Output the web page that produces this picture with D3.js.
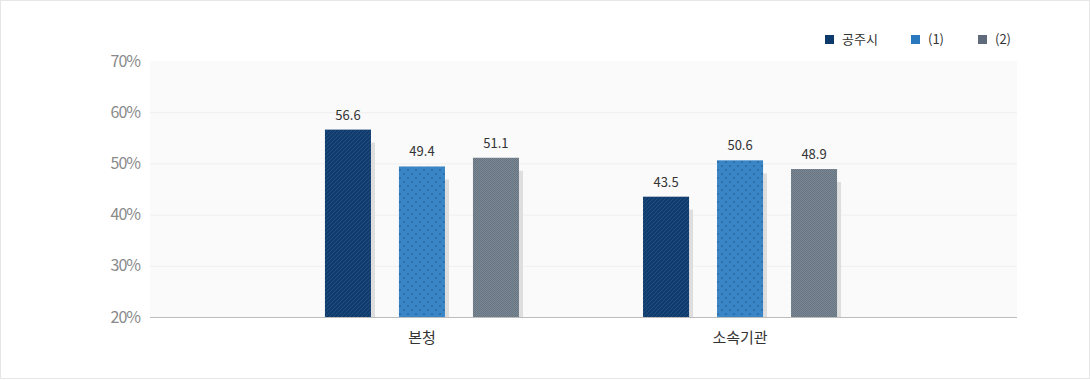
<!DOCTYPE html>
<html>
<head>
<meta charset="utf-8">
<script src="https://cdn.jsdelivr.net/npm/d3@7"></script>
<style>
  body { margin: 0; background: #fff; }
  svg { display: block; font-family: "Noto Sans CJK KR", "Noto Sans", sans-serif; }
</style>
</head>
<body>
<svg id="chart"></svg>
<script>
const categories = ['본청', '소속기관']
const seriesNames = ['공주시', '(1)', '(2)']
const values = [
    [56.6, 49.4, 51.1],
    [43.5, 50.6, 48.9],
]
const yTicks = [20, 30, 40, 50, 60, 70]

const W = 1090, H = 380
const plot = { left: 150, right: 1017, top: 61, bottom: 317 }

const barColors = ['#0f3b6d', '#3985c6', '#6f7c8b']
const legendColors = ['#0e3a6b', '#2a78bd', '#5f6b7a']

const svg = d3.select('#chart').attr('width', W).attr('height', H)

// outer frame
svg.append('rect')
   .attr('x', 0.5).attr('y', 0.5)
   .attr('width', W - 1).attr('height', H - 2)
   .attr('fill', '#fff').attr('stroke', '#e6e6e6')

// patterns
const defs = svg.append('defs')
const p1 = defs.append('pattern').attr('id', 'pat0')
               .attr('patternUnits', 'userSpaceOnUse')
               .attr('width', 4).attr('height', 4)
p1.append('rect').attr('width', 4).attr('height', 4).attr('fill', barColors[0])
p1.append('path').attr('d', 'M-1,1 L1,-1 M0,4 L4,0 M3,5 L5,3')
  .attr('stroke', '#2a5488').attr('stroke-width', 0.8)

const p2 = defs.append('pattern').attr('id', 'pat1')
               .attr('patternUnits', 'userSpaceOnUse')
               .attr('width', 8).attr('height', 8)
p2.append('rect').attr('width', 8).attr('height', 8).attr('fill', barColors[1])
p2.append('rect').attr('x', 1).attr('y', 1).attr('width', 2).attr('height', 2).attr('fill', '#2d6fab')
p2.append('rect').attr('x', 5).attr('y', 5).attr('width', 2).attr('height', 2).attr('fill', '#2d6fab')

const p3 = defs.append('pattern').attr('id', 'pat2')
               .attr('patternUnits', 'userSpaceOnUse')
               .attr('width', 2).attr('height', 2)
p3.append('rect').attr('width', 2).attr('height', 2).attr('fill', '#7b8896')
p3.append('rect').attr('width', 1).attr('height', 1).attr('fill', '#67747f')
p3.append('rect').attr('x', 1).attr('y', 1).attr('width', 1).attr('height', 1).attr('fill', '#67747f')

// scales
const y = d3.scaleLinear().domain([20, 70]).range([plot.bottom, plot.top])
const x0 = d3.scaleBand().domain(categories)
             .range([plot.left, 1012]).paddingOuter(0.355).paddingInner(0)
const x1 = d3.scaleBand().domain(seriesNames)
             .range([-111, 111]).paddingInner(0.378).paddingOuter(0.189)

// plot background
svg.append('rect')
   .attr('x', plot.left).attr('y', plot.top)
   .attr('width', plot.right - plot.left).attr('height', plot.bottom - plot.top)
   .attr('fill', '#fafafa')

// gridlines
svg.append('g').selectAll('line')
   .data(yTicks.slice(1, -1))
   .enter().append('line')
   .attr('x1', plot.left).attr('x2', plot.right)
   .attr('y1', d => y(d) + 0.5).attr('y2', d => y(d) + 0.5)
   .attr('stroke', '#efefef')

// y axis labels
const yAxis = svg.append('g')
   .attr('transform', `translate(${plot.left},0)`)
   .call(d3.axisLeft(y).tickValues(yTicks).tickSize(0).tickPadding(10)
           .tickFormat(d => d + '%'))
yAxis.select('.domain').remove()
yAxis.selectAll('text')
     .attr('fill', '#8a8a8a').attr('font-size', 16)
     .attr('letter-spacing', '-1px')
     .attr('font-family', '"Noto Sans CJK KR", sans-serif')

// bars
const groups = svg.append('g').selectAll('g')
   .data(categories)
   .enter().append('g')
   .attr('transform', d => `translate(${x0(d) + x0.bandwidth() / 2},0)`)

groups.each(function (cat, ci) {
    const g = d3.select(this)
    const rows = seriesNames.map((s, si) => ({ s, si, v: values[ci][si] }))

    // shadow
    g.selectAll('.shadow').data(rows).enter().append('rect')
     .attr('class', 'shadow')
     .attr('x', d => x1(d.s) + x1.bandwidth())
     .attr('y', d => y(d.v) + 13)
     .attr('width', 4)
     .attr('height', d => plot.bottom - y(d.v) - 13)
     .attr('fill', '#dedede')

    g.selectAll('.bar').data(rows).enter().append('rect')
     .attr('class', 'bar')
     .attr('x', d => x1(d.s))
     .attr('y', d => y(d.v))
     .attr('width', x1.bandwidth())
     .attr('height', d => plot.bottom - y(d.v))
     .attr('fill', d => `url(#pat${d.si})`)

    g.selectAll('.val').data(rows).enter().append('text')
     .attr('class', 'val')
     .attr('x', d => x1(d.s) + x1.bandwidth() / 2)
     .attr('y', d => y(d.v) - 10)
     .attr('text-anchor', 'middle')
     .attr('font-size', 13)
     .attr('fill', '#333')
     .text(d => d.v.toFixed(1))
})

// x axis line
svg.append('line')
   .attr('x1', plot.left).attr('x2', plot.right)
   .attr('y1', plot.bottom + 0.5).attr('y2', plot.bottom + 0.5)
   .attr('stroke', '#bcbcbc')

// category labels
svg.append('g').selectAll('text')
   .data(categories)
   .enter().append('text')
   .attr('x', d => x0(d) + x0.bandwidth() / 2)
   .attr('y', 343)
   .attr('text-anchor', 'middle')
   .attr('font-size', 15)
   .attr('fill', '#333')
   .text(d => d)

// legend
const legendX = [825, 911, 978]
const legend = svg.append('g').selectAll('g')
   .data(seriesNames)
   .enter().append('g')
   .attr('transform', (d, i) => `translate(${legendX[i]},35)`)
legend.append('rect')
      .attr('width', 9).attr('height', 9)
      .attr('fill', (d, i) => legendColors[i])
legend.append('text')
      .attr('x', 17).attr('y', 9)
      .attr('font-size', 13)
      .attr('fill', '#333')
      .text(d => d)
</script>
</body>
</html>
